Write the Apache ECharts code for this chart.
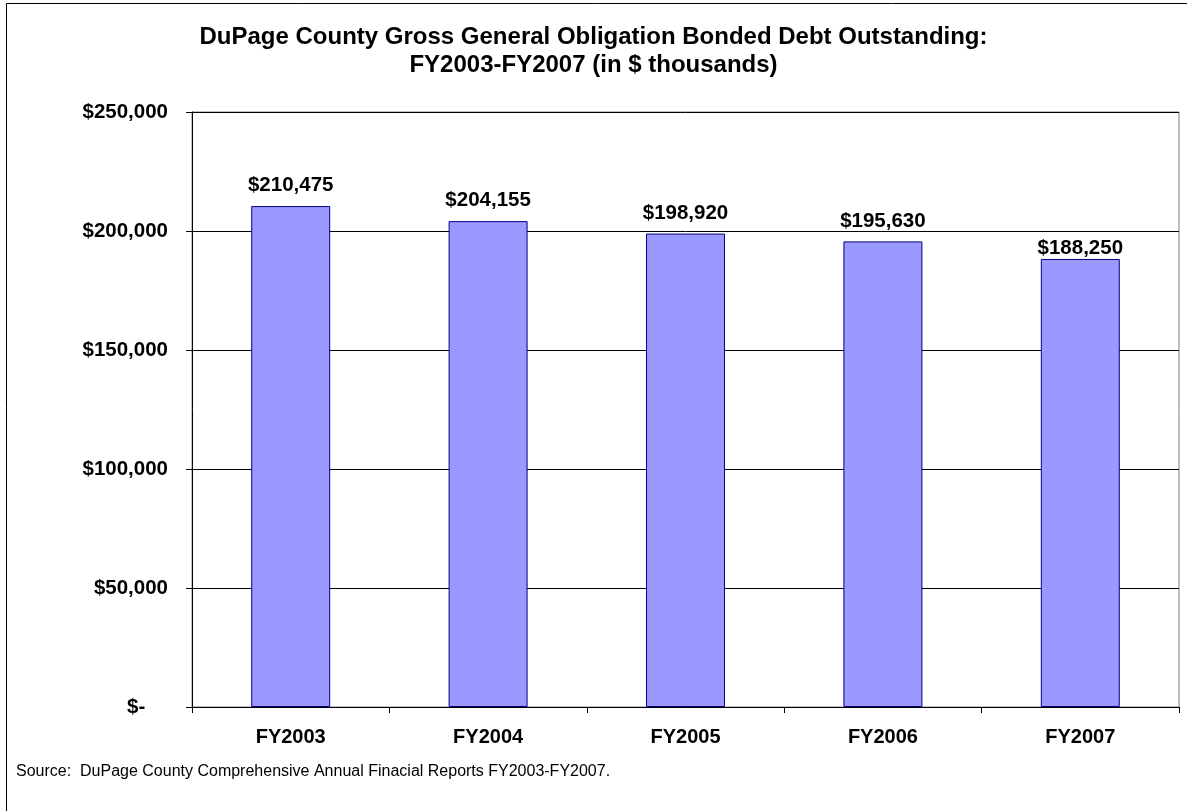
<!DOCTYPE html>
<html>
<head>
<meta charset="utf-8">
<title>DuPage County GO Bonded Debt</title>
<script src="https://cdn.jsdelivr.net/npm/echarts@6/dist/echarts.min.js"></script>
<style>
  html, body { margin: 0; padding: 0; background: #fff; }
  #chart { width: 1187px; height: 811px; }
</style>
</head>
<body>
<div id="chart"></div>
<script>
const categories = ['FY2003', 'FY2004', 'FY2005', 'FY2006', 'FY2007']
const debtOutstanding = [210475, 204155, 198920, 195630, 188250] // $ thousands
const yTickValues = [0, 50000, 100000, 150000, 200000, 250000]

const titleText = 'DuPage County Gross General Obligation Bonded Debt Outstanding:\nFY2003-FY2007 (in $ thousands)'
const sourceText = 'Source:  DuPage County Comprehensive Annual Finacial Reports FY2003-FY2007.'

const fontFamily = 'Arial, "Liberation Sans", sans-serif'

function money(v) {
  if (v === 0) {
    return '$-    ' // accounting style zero, padded like the original
  }
  return '$' + v.toLocaleString('en-US')
}

const chart = echarts.init(document.getElementById('chart'), null, { renderer: 'canvas' })

// the last label sits closer to its bar in the original so it clears the gridline
const barData = debtOutstanding.map((v, i) => {
  if (i === debtOutstanding.length - 1) {
    return { value: v, label: { distance: 0 } }
  }
  return v
})

chart.setOption({
  animation: false,
  backgroundColor: '#ffffff',
  textStyle: { fontFamily: fontFamily },
  title: {
    text: titleText,
    left: 'center',
    top: 23,
    padding: 0,
    textStyle: {
      fontFamily: fontFamily,
      fontSize: 24,
      fontWeight: 'bold',
      color: '#000',
      lineHeight: 28
    }
  },
  grid: {
    left: 192,
    right: 8,
    top: 112,
    bottom: 104,
    show: true,
    borderColor: '#808080',
    borderWidth: 1,
    containLabel: false
  },
  xAxis: {
    type: 'category',
    data: categories,
    axisLine: { lineStyle: { color: '#000', width: 1 } },
    axisTick: { show: true, length: 6, lineStyle: { color: '#000' } },
    axisLabel: {
      color: '#000',
      fontSize: 20,
      fontWeight: 'bold',
      fontFamily: fontFamily,
      margin: 20
    }
  },
  yAxis: {
    type: 'value',
    min: yTickValues[0],
    max: yTickValues[yTickValues.length - 1],
    interval: yTickValues[1] - yTickValues[0],
    axisLine: { show: true, lineStyle: { color: '#000', width: 1 } },
    axisTick: { show: true, length: 6, lineStyle: { color: '#000' } },
    splitLine: { show: true, lineStyle: { color: '#000', width: 1 } },
    axisLabel: {
      color: '#000',
      fontSize: 20.5,
      fontWeight: 'bold',
      fontFamily: fontFamily,
      margin: 24,
      formatter: money
    }
  },
  series: [{
    name: 'Gross GO Bonded Debt',
    type: 'bar',
    barWidth: '40%',
    data: barData,
    itemStyle: {
      color: '#9999ff',
      borderColor: '#000080',
      borderWidth: 1
    },
    label: {
      show: true,
      position: 'top',
      distance: 10,
      color: '#000',
      fontSize: 20.5,
      fontWeight: 'bold',
      fontFamily: fontFamily,
      formatter: p => money(p.value)
    }
  }],
  graphic: [{
    type: 'rect',
    shape: { x: 6.5, y: 3.5, width: 1300, height: 1000 },
    style: { fill: 'none', stroke: '#000', lineWidth: 1 },
    silent: true
  }, {
    type: 'text',
    left: 16,
    top: 764,
    style: {
      text: sourceText,
      fill: '#000',
      fontSize: 16,
      fontFamily: fontFamily
    }
  }]
})
</script>
</body>
</html>
